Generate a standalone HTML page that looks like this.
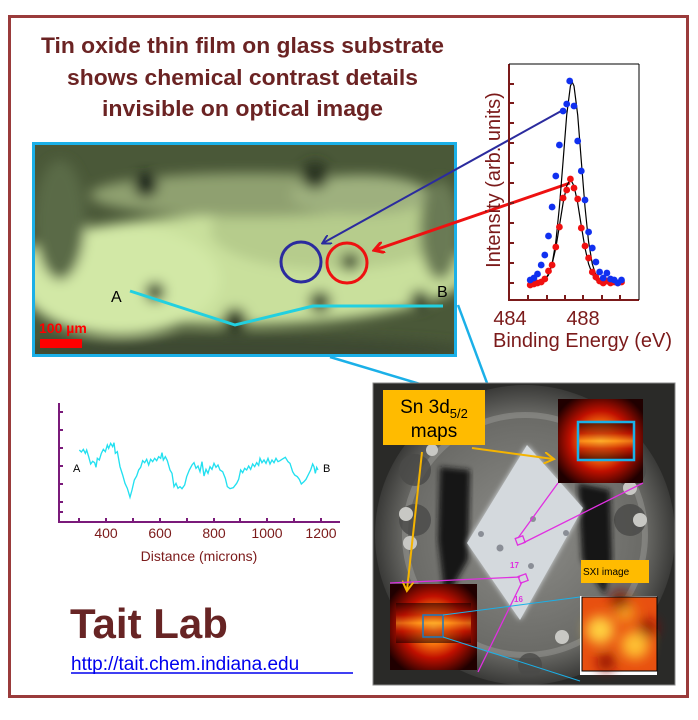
<!DOCTYPE html>
<html><head><meta charset="utf-8"><style>
html,body{margin:0;padding:0;background:#fff}
svg{display:block;font-family:"Liberation Sans",sans-serif}
</style></head><body>
<svg width="698" height="720" viewBox="0 0 698 720" xmlns="http://www.w3.org/2000/svg">
<defs>
<filter id="b6" x="-20%" y="-20%" width="140%" height="140%"><feGaussianBlur stdDeviation="6"/></filter>
<filter id="b3"><feGaussianBlur stdDeviation="3"/></filter>
<radialGradient id="heat" cx="50%" cy="50%" r="60%">
<stop offset="0" stop-color="#ffd040"/><stop offset="0.3" stop-color="#ff8010"/><stop offset="0.6" stop-color="#c01000"/><stop offset="1" stop-color="#200000"/></radialGradient>
<linearGradient id="heatv" x1="0" y1="0" x2="0" y2="1">
<stop offset="0" stop-color="#1a0000"/><stop offset="0.3" stop-color="#b01000"/><stop offset="0.5" stop-color="#ffa020"/><stop offset="0.7" stop-color="#c01800"/><stop offset="1" stop-color="#1a0000"/></linearGradient>
<radialGradient id="plate" cx="50%" cy="50%" r="50%">
<stop offset="0" stop-color="#8e8e8a"/><stop offset="0.8" stop-color="#6a6a66"/><stop offset="1" stop-color="#3a3a38"/></radialGradient>
<marker id="ab" markerWidth="10" markerHeight="10" refX="8" refY="5" orient="auto" markerUnits="userSpaceOnUse"><path d="M0,0 L9,5 L0,10" fill="none" stroke="#2b2b9e" stroke-width="2"/></marker>
<marker id="ar" markerWidth="12" markerHeight="12" refX="9" refY="6" orient="auto" markerUnits="userSpaceOnUse"><path d="M0,0 L10,6 L0,12" fill="none" stroke="#ee1111" stroke-width="3"/></marker>
<marker id="ao" markerWidth="12" markerHeight="12" refX="9" refY="6" orient="auto" markerUnits="userSpaceOnUse"><path d="M0,0 L10,6 L0,12" fill="none" stroke="#f5b400" stroke-width="2"/></marker>
<marker id="db" markerWidth="8" markerHeight="8" refX="4" refY="4" markerUnits="userSpaceOnUse"><circle cx="4" cy="4" r="3.4" fill="#1030f0"/></marker>
<marker id="dr" markerWidth="8" markerHeight="8" refX="4" refY="4" markerUnits="userSpaceOnUse"><circle cx="4" cy="4" r="3.4" fill="#f01010"/></marker>
<clipPath id="mc"><rect x="34" y="144" width="421" height="211"/></clipPath>
<clipPath id="pc"><rect x="373" y="383" width="302" height="302"/></clipPath>
</defs>

<rect x="9.5" y="16.5" width="678" height="680" fill="#fff" stroke="#9a3b3b" stroke-width="3"/>

<g fill="#6b2323" font-weight="bold" font-size="22">
<text x="41" y="53" textLength="403" lengthAdjust="spacingAndGlyphs">Tin oxide thin film on glass substrate</text>
<text x="67" y="85" textLength="351" lengthAdjust="spacingAndGlyphs">shows chemical contrast details</text>
<text x="102" y="116" textLength="281" lengthAdjust="spacingAndGlyphs">invisible on optical image</text>
</g>

<!-- microscope image -->
<g clip-path="url(#mc)">
<rect x="34" y="144" width="421" height="211" fill="#4a5838"/>
<g filter="url(#b6)">
<ellipse cx="240" cy="270" rx="230" ry="55" fill="#c9e09c"/>
<ellipse cx="120" cy="280" rx="100" ry="55" fill="#d2e8a6"/>
<ellipse cx="330" cy="230" rx="120" ry="40" fill="#b6cc8c"/>
<ellipse cx="250" cy="195" rx="160" ry="22" fill="#8fa070"/>
<ellipse cx="360" cy="195" rx="70" ry="20" fill="#9eb07e"/>
<circle cx="146" cy="185" r="12" fill="#1e261a"/>
<circle cx="315" cy="175" r="14" fill="#2a3422"/>
<circle cx="350" cy="262" r="9" fill="#34402a"/>
<circle cx="155" cy="292" r="10" fill="#3a4630"/>
<circle cx="235" cy="320" r="12" fill="#2a3422"/>
<circle cx="320" cy="302" r="11" fill="#3a4630"/>
<circle cx="420" cy="300" r="10" fill="#3a4630"/>
<ellipse cx="240" cy="350" rx="230" ry="14" fill="#3e4a32"/>
<ellipse cx="60" cy="220" rx="25" ry="60" fill="#5a6a46"/>
<ellipse cx="440" cy="230" rx="20" ry="50" fill="#6a7a54"/>
</g>
</g>
<rect x="33.5" y="143.5" width="422" height="212" fill="none" stroke="#1bb0e8" stroke-width="3"/>
<circle cx="301" cy="262" r="20" fill="none" stroke="#2b2b9e" stroke-width="3"/>
<circle cx="347" cy="263" r="20" fill="none" stroke="#ee1111" stroke-width="3"/>
<polyline points="130,291 235,325 313,306 443,306" fill="none" stroke="#22d0e0" stroke-width="3"/>
<text x="111" y="302" font-size="16">A</text>
<text x="437" y="297" font-size="16">B</text>
<text x="39" y="333" font-size="14" fill="#f00" font-weight="bold">100 µm</text>
<rect x="40" y="339" width="42" height="9" fill="#f00"/>

<line x1="330" y1="357" x2="580" y2="432" stroke="#1bb0e8" stroke-width="2.5"/>
<line x1="458" y1="305" x2="487" y2="383" stroke="#1bb0e8" stroke-width="2.5"/>

<line x1="563" y1="110" x2="323" y2="243" stroke="#2b2b9e" stroke-width="2" marker-end="url(#ab)"/>
<line x1="570" y1="183" x2="375" y2="250" stroke="#ee1111" stroke-width="3" marker-end="url(#ar)"/>

<!-- XPS plot -->
<g stroke="#7b1a1a" stroke-width="2" fill="none">
<polyline points="509,64 509,300 639,300"/>
<line x1="509" y1="64" x2="639" y2="64" stroke="#000" stroke-width="1"/>
<line x1="639" y1="64" x2="639" y2="300" stroke="#000" stroke-width="1"/>
<path d="M509,84h5M509,103h5M509,123h5M509,143h5M509,163h5M509,183h5M509,203h5M509,223h5M509,243h5M509,263h5M509,283h5M528,300v-5M547,300v-5M565,300v-5M583,300v-5M602,300v-5M620,300v-5"/>
</g>
<polyline fill="none" stroke="#000" stroke-width="1.2" points="530.2,282 537.5,282 544.8,280 548.5,275 552.1,264 555.8,242 559.4,207 563.1,161 566.7,115 570.4,86 572.2,82 574,86 577.7,115 581.3,161 585,207 588.6,242 592.3,264 595.9,275 599.6,280 603.2,282 621.5,282"/>
<polyline fill="none" stroke="#000" stroke-width="1.2" points="530.2,284 537.5,283 544.8,280 548.5,274 552.1,264 555.8,248 559.4,226 563.1,203 566.7,186 570.4,179 574,186 577.7,203 581.3,226 585,248 588.6,264 592.3,274 595.9,280 603.2,283 621.5,284"/>
<polyline fill="none" stroke="none" marker-start="url(#dr)" marker-mid="url(#dr)" marker-end="url(#dr)" points="530.2,285 533.9,284 537.5,283 541.2,282 544.8,279 548.5,271 552.1,265 555.8,247 559.4,227 563.1,198 566.7,190 570.4,179 574,188 577.7,199 581.3,228 585,246 588.6,258 592.3,272 595.9,277 599.6,281 603.2,283 606.9,281 610.5,283 614.2,282 617.8,283 621.5,282"/>
<polyline fill="none" stroke="none" marker-start="url(#db)" marker-mid="url(#db)" marker-end="url(#db)" points="530.2,280 533.9,278 537.5,274 541.2,265 544.8,255 548.5,236 552.1,207 555.8,176 559.4,145 563.1,111 566.7,104 569.7,81 574,106 577.7,141 581.3,171 585,200 588.6,232 592.3,248 595.9,262 599.6,272 603.2,278 606.9,273 610.5,279 614.2,280 617.8,283 621.5,280"/>
<g fill="#7b1a1a" font-size="20">
<text x="510" y="325" text-anchor="middle">484</text>
<text x="583" y="325" text-anchor="middle">488</text>
<text x="493" y="347">Binding Energy (eV)</text>
<text transform="translate(500,180) rotate(-90)" text-anchor="middle">Intensity (arb. units)</text>
</g>

<!-- profile chart -->
<g stroke="#7a1a7a" stroke-width="2" fill="none">
<polyline points="59,403 59,522 340,522"/>
<path d="M59,412h4M59,430h4M59,448h4M59,466h4M59,484h4M59,502h4M59,512h4M79,522v-4M106,522v-4M133,522v-4M160,522v-4M187,522v-4M214,522v-4M240,522v-4M267,522v-4M294,522v-4M321,522v-4"/>
</g>
<g transform="translate(40,390) scale(0.33333)">
<polyline fill="none" stroke="#22e0f0" stroke-width="4" points="118,180 124,186 130,178 136,190 140,180 146,200 152,222 158,214 164,218 168,232 172,205 178,210 184,190 190,178 196,185 202,165 206,175 212,160 218,170 222,158 226,190 232,185 240,230 248,255 255,280 262,295 270,322 276,300 283,270 290,258 296,240 302,232 308,212 314,218 320,208 326,225 332,208 338,215 344,205 350,212 356,200 362,205 366,188 370,210 376,200 382,212 390,240 396,250 402,290 408,280 414,295 420,290 426,296 434,285 440,260 448,240 456,225 462,218 468,235 474,228 480,245 486,215 492,258 498,238 504,250 510,230 516,238 522,220 528,232 534,225 540,240 548,245 556,265 562,290 570,296 580,293 590,280 596,268 602,240 608,248 614,235 620,240 626,228 632,238 638,222 644,230 650,218 656,226 660,205 666,218 672,210 678,220 684,205 690,222 696,210 702,218 708,205 714,215 720,212 726,208 736,202 744,215 750,220 758,245 764,255 772,260 778,268 784,282 792,275 798,268 806,252 812,240 818,222 822,230 826,250 830,232 834,240"/>
</g>
<text x="73" y="472" font-size="11">A</text>
<text x="323" y="472" font-size="11">B</text>
<g fill="#7b1a1a" font-size="14" text-anchor="middle">
<text x="106" y="538">400</text><text x="160" y="538">600</text><text x="214" y="538">800</text><text x="267" y="538">1000</text><text x="321" y="538">1200</text>
<text x="199" y="561">Distance (microns)</text>
</g>

<text x="70" y="638" font-size="42" font-weight="bold" fill="#672424">Tait Lab</text>
<text x="71" y="670" font-size="19" fill="#0000ee">http://tait.chem.indiana.edu</text>
<line x1="71" y1="673" x2="353" y2="673" stroke="#0000ee" stroke-width="1.5"/>

<!-- photo -->
<g clip-path="url(#pc)">
<rect x="373" y="383" width="302" height="302" fill="#2a2a28"/>
<circle cx="525" cy="535" r="150" fill="url(#plate)"/>
<circle cx="525" cy="535" r="120" fill="none" stroke="#9a9a96" stroke-width="6" opacity="0.5"/>
<g fill="#4a4a48" opacity="0.8">
<circle cx="415" cy="470" r="16"/><circle cx="415" cy="520" r="16"/><circle cx="630" cy="470" r="16"/><circle cx="630" cy="520" r="16"/>
<circle cx="450" cy="410" r="14"/><circle cx="600" cy="650" r="14"/><circle cx="530" cy="665" r="12"/>
</g>
<g fill="#c8c8c4"><circle cx="410" cy="543" r="7"/><circle cx="406" cy="514" r="7"/><circle cx="640" cy="520" r="7"/><circle cx="630" cy="488" r="7"/><circle cx="432" cy="450" r="6"/><circle cx="562" cy="637" r="7"/></g>
<path d="M440,467 L470,470 L468,560 L445,600 L438,540 Z" fill="#151515" filter="url(#b3)"/>
<path d="M578,483 L610,490 L612,560 L605,595 L582,560 Z" fill="#151515" filter="url(#b3)"/>
<path d="M527,445 L583,508 L520,620 L467,543 Z" fill="#d8dde0" filter="url(#b3)"/>
<path d="M527,445 L583,508 L520,620 L467,543 Z" fill="#d4d9dd"/>
<g fill="#8a8e96"><circle cx="500" cy="548" r="3.5"/><circle cx="481" cy="534" r="3"/><circle cx="533" cy="519" r="3"/><circle cx="566" cy="533" r="3"/><circle cx="531" cy="566" r="3"/></g>
</g>
<rect x="373" y="383" width="302" height="302" fill="none" stroke="#888" stroke-width="1"/>

<rect x="558" y="399" width="85" height="84" fill="url(#heat)"/>
<rect x="578" y="422" width="56" height="38" fill="url(#heatv)" opacity="0.7"/>
<rect x="578" y="422" width="56" height="38" fill="none" stroke="#1bb0e8" stroke-width="2.5"/>
<rect x="390" y="584" width="87" height="86" fill="url(#heat)"/>
<rect x="396" y="603" width="75" height="40" fill="url(#heatv)" opacity="0.6"/>
<rect x="423" y="615" width="20" height="22" fill="none" stroke="#1b7ac0" stroke-width="1.5"/>
<rect x="580" y="596" width="77" height="79" fill="#fff"/>
<rect x="582" y="597" width="75" height="74" fill="#e85010"/>
<g filter="url(#b6)">
<circle cx="600" cy="630" r="14" fill="#ffd040"/><circle cx="635" cy="645" r="14" fill="#ffc030"/><circle cx="625" cy="612" r="10" fill="#f8a020"/>
<circle cx="620" cy="600" r="9" fill="#801000"/><circle cx="648" cy="628" r="9" fill="#901000"/><circle cx="606" cy="662" r="9" fill="#901000"/>
</g>
<rect x="582" y="597" width="75" height="74" fill="none" stroke="#000" stroke-width="1"/>

<rect x="383" y="390" width="102" height="55" fill="#ffbb00"/>
<text x="434" y="413" font-size="19" text-anchor="middle">Sn 3d<tspan font-size="13" dy="5">5/2</tspan></text>
<text x="434" y="437" font-size="19" text-anchor="middle">maps</text>
<rect x="581" y="560" width="68" height="23" fill="#ffbb00"/>
<text x="583" y="575" font-size="10">SXI image</text>

<g stroke="#f5b400" stroke-width="2">
<line x1="472" y1="448" x2="553" y2="459" marker-end="url(#ao)"/>
<line x1="422" y1="452" x2="407" y2="590" marker-end="url(#ao)"/>
</g>
<g stroke="#e030e0" stroke-width="1.3" fill="none">
<line x1="558" y1="483" x2="518" y2="538"/>
<line x1="643" y1="483" x2="523" y2="543"/>
<rect x="516" y="537" width="8" height="7" transform="rotate(-20 520 540)"/>
<line x1="390" y1="583" x2="520" y2="577"/>
<rect x="519" y="575" width="8" height="7" transform="rotate(-20 523 578)"/>
<line x1="522" y1="582" x2="478" y2="672"/>
</g>
<text x="510" y="568" font-size="8" fill="#e030e0" font-weight="bold">17</text>
<text x="514" y="602" font-size="8" fill="#e030e0" font-weight="bold">16</text>
<g stroke="#1bb0e8" stroke-width="1">
<line x1="443" y1="615" x2="580" y2="597"/><line x1="443" y1="637" x2="580" y2="681"/>
</g>
</svg>
</body></html>
